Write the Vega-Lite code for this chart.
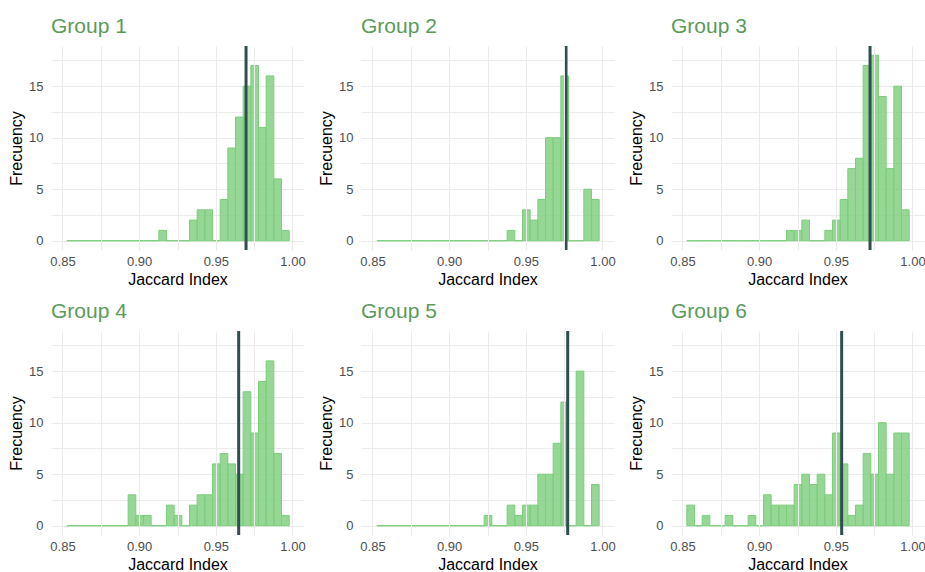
{
  "$schema": "https://vega.github.io/schema/vega-lite/v6.json",
  "background": "white",
  "padding": {"left": 8, "top": 15, "right": 0, "bottom": 0},
  "config": {
    "font": "Liberation Sans",
    "view": {"stroke": null},
    "axis": {
      "domain": false, "ticks": false, "grid": true, "gridColor": "#EBEBEB", "gridWidth": 1,
      "labelColor": "#4D4D4D", "labelFontSize": 13, "labelFont": "Liberation Sans",
      "titleColor": "#000000", "titleFontSize": 16, "titleFontWeight": "normal", "titleFont": "Liberation Sans"
    }
  },
  "data": {"values": [
    {"t":"bin","g":"Group 1","b0":0.8525,"b1":0.8575,"n":0},{"t":"bin","g":"Group 1","b0":0.8575,"b1":0.8625,"n":0},{"t":"bin","g":"Group 1","b0":0.8625,"b1":0.8675,"n":0},{"t":"bin","g":"Group 1","b0":0.8675,"b1":0.8725,"n":0},{"t":"bin","g":"Group 1","b0":0.8725,"b1":0.8775,"n":0},{"t":"bin","g":"Group 1","b0":0.8775,"b1":0.8825,"n":0},{"t":"bin","g":"Group 1","b0":0.8825,"b1":0.8875,"n":0},{"t":"bin","g":"Group 1","b0":0.8875,"b1":0.8925,"n":0},{"t":"bin","g":"Group 1","b0":0.8925,"b1":0.8975,"n":0},{"t":"bin","g":"Group 1","b0":0.8975,"b1":0.9025,"n":0},{"t":"bin","g":"Group 1","b0":0.9025,"b1":0.9075,"n":0},{"t":"bin","g":"Group 1","b0":0.9075,"b1":0.9125,"n":0},{"t":"bin","g":"Group 1","b0":0.9125,"b1":0.9175,"n":1},{"t":"bin","g":"Group 1","b0":0.9175,"b1":0.9225,"n":0},{"t":"bin","g":"Group 1","b0":0.9225,"b1":0.9275,"n":0},{"t":"bin","g":"Group 1","b0":0.9275,"b1":0.9325,"n":0},{"t":"bin","g":"Group 1","b0":0.9325,"b1":0.9375,"n":2},{"t":"bin","g":"Group 1","b0":0.9375,"b1":0.9425,"n":3},{"t":"bin","g":"Group 1","b0":0.9425,"b1":0.9475,"n":3},{"t":"bin","g":"Group 1","b0":0.9475,"b1":0.9525,"n":0},{"t":"bin","g":"Group 1","b0":0.9525,"b1":0.9575,"n":4},{"t":"bin","g":"Group 1","b0":0.9575,"b1":0.9625,"n":9},{"t":"bin","g":"Group 1","b0":0.9625,"b1":0.9675,"n":12},{"t":"bin","g":"Group 1","b0":0.9675,"b1":0.9725,"n":15},{"t":"bin","g":"Group 1","b0":0.9725,"b1":0.9775,"n":17},{"t":"bin","g":"Group 1","b0":0.9775,"b1":0.9825,"n":11},{"t":"bin","g":"Group 1","b0":0.9825,"b1":0.9875,"n":16},{"t":"bin","g":"Group 1","b0":0.9875,"b1":0.9925,"n":6},{"t":"bin","g":"Group 1","b0":0.9925,"b1":0.9975,"n":1},
    {"t":"bin","g":"Group 2","b0":0.8525,"b1":0.8575,"n":0},{"t":"bin","g":"Group 2","b0":0.8575,"b1":0.8625,"n":0},{"t":"bin","g":"Group 2","b0":0.8625,"b1":0.8675,"n":0},{"t":"bin","g":"Group 2","b0":0.8675,"b1":0.8725,"n":0},{"t":"bin","g":"Group 2","b0":0.8725,"b1":0.8775,"n":0},{"t":"bin","g":"Group 2","b0":0.8775,"b1":0.8825,"n":0},{"t":"bin","g":"Group 2","b0":0.8825,"b1":0.8875,"n":0},{"t":"bin","g":"Group 2","b0":0.8875,"b1":0.8925,"n":0},{"t":"bin","g":"Group 2","b0":0.8925,"b1":0.8975,"n":0},{"t":"bin","g":"Group 2","b0":0.8975,"b1":0.9025,"n":0},{"t":"bin","g":"Group 2","b0":0.9025,"b1":0.9075,"n":0},{"t":"bin","g":"Group 2","b0":0.9075,"b1":0.9125,"n":0},{"t":"bin","g":"Group 2","b0":0.9125,"b1":0.9175,"n":0},{"t":"bin","g":"Group 2","b0":0.9175,"b1":0.9225,"n":0},{"t":"bin","g":"Group 2","b0":0.9225,"b1":0.9275,"n":0},{"t":"bin","g":"Group 2","b0":0.9275,"b1":0.9325,"n":0},{"t":"bin","g":"Group 2","b0":0.9325,"b1":0.9375,"n":0},{"t":"bin","g":"Group 2","b0":0.9375,"b1":0.9425,"n":1},{"t":"bin","g":"Group 2","b0":0.9425,"b1":0.9475,"n":0},{"t":"bin","g":"Group 2","b0":0.9475,"b1":0.9525,"n":3},{"t":"bin","g":"Group 2","b0":0.9525,"b1":0.9575,"n":2},{"t":"bin","g":"Group 2","b0":0.9575,"b1":0.9625,"n":4},{"t":"bin","g":"Group 2","b0":0.9625,"b1":0.9675,"n":10},{"t":"bin","g":"Group 2","b0":0.9675,"b1":0.9725,"n":10},{"t":"bin","g":"Group 2","b0":0.9725,"b1":0.9775,"n":16},{"t":"bin","g":"Group 2","b0":0.9775,"b1":0.9825,"n":0},{"t":"bin","g":"Group 2","b0":0.9825,"b1":0.9875,"n":0},{"t":"bin","g":"Group 2","b0":0.9875,"b1":0.9925,"n":5},{"t":"bin","g":"Group 2","b0":0.9925,"b1":0.9975,"n":4},
    {"t":"bin","g":"Group 3","b0":0.8525,"b1":0.8575,"n":0},{"t":"bin","g":"Group 3","b0":0.8575,"b1":0.8625,"n":0},{"t":"bin","g":"Group 3","b0":0.8625,"b1":0.8675,"n":0},{"t":"bin","g":"Group 3","b0":0.8675,"b1":0.8725,"n":0},{"t":"bin","g":"Group 3","b0":0.8725,"b1":0.8775,"n":0},{"t":"bin","g":"Group 3","b0":0.8775,"b1":0.8825,"n":0},{"t":"bin","g":"Group 3","b0":0.8825,"b1":0.8875,"n":0},{"t":"bin","g":"Group 3","b0":0.8875,"b1":0.8925,"n":0},{"t":"bin","g":"Group 3","b0":0.8925,"b1":0.8975,"n":0},{"t":"bin","g":"Group 3","b0":0.8975,"b1":0.9025,"n":0},{"t":"bin","g":"Group 3","b0":0.9025,"b1":0.9075,"n":0},{"t":"bin","g":"Group 3","b0":0.9075,"b1":0.9125,"n":0},{"t":"bin","g":"Group 3","b0":0.9125,"b1":0.9175,"n":0},{"t":"bin","g":"Group 3","b0":0.9175,"b1":0.9225,"n":1},{"t":"bin","g":"Group 3","b0":0.9225,"b1":0.9275,"n":1},{"t":"bin","g":"Group 3","b0":0.9275,"b1":0.9325,"n":2},{"t":"bin","g":"Group 3","b0":0.9325,"b1":0.9375,"n":0},{"t":"bin","g":"Group 3","b0":0.9375,"b1":0.9425,"n":0},{"t":"bin","g":"Group 3","b0":0.9425,"b1":0.9475,"n":1},{"t":"bin","g":"Group 3","b0":0.9475,"b1":0.9525,"n":2},{"t":"bin","g":"Group 3","b0":0.9525,"b1":0.9575,"n":4},{"t":"bin","g":"Group 3","b0":0.9575,"b1":0.9625,"n":7},{"t":"bin","g":"Group 3","b0":0.9625,"b1":0.9675,"n":8},{"t":"bin","g":"Group 3","b0":0.9675,"b1":0.9725,"n":17},{"t":"bin","g":"Group 3","b0":0.9725,"b1":0.9775,"n":18},{"t":"bin","g":"Group 3","b0":0.9775,"b1":0.9825,"n":14},{"t":"bin","g":"Group 3","b0":0.9825,"b1":0.9875,"n":7},{"t":"bin","g":"Group 3","b0":0.9875,"b1":0.9925,"n":15},{"t":"bin","g":"Group 3","b0":0.9925,"b1":0.9975,"n":3},
    {"t":"bin","g":"Group 4","b0":0.8525,"b1":0.8575,"n":0},{"t":"bin","g":"Group 4","b0":0.8575,"b1":0.8625,"n":0},{"t":"bin","g":"Group 4","b0":0.8625,"b1":0.8675,"n":0},{"t":"bin","g":"Group 4","b0":0.8675,"b1":0.8725,"n":0},{"t":"bin","g":"Group 4","b0":0.8725,"b1":0.8775,"n":0},{"t":"bin","g":"Group 4","b0":0.8775,"b1":0.8825,"n":0},{"t":"bin","g":"Group 4","b0":0.8825,"b1":0.8875,"n":0},{"t":"bin","g":"Group 4","b0":0.8875,"b1":0.8925,"n":0},{"t":"bin","g":"Group 4","b0":0.8925,"b1":0.8975,"n":3},{"t":"bin","g":"Group 4","b0":0.8975,"b1":0.9025,"n":1},{"t":"bin","g":"Group 4","b0":0.9025,"b1":0.9075,"n":1},{"t":"bin","g":"Group 4","b0":0.9075,"b1":0.9125,"n":0},{"t":"bin","g":"Group 4","b0":0.9125,"b1":0.9175,"n":0},{"t":"bin","g":"Group 4","b0":0.9175,"b1":0.9225,"n":2},{"t":"bin","g":"Group 4","b0":0.9225,"b1":0.9275,"n":1},{"t":"bin","g":"Group 4","b0":0.9275,"b1":0.9325,"n":0},{"t":"bin","g":"Group 4","b0":0.9325,"b1":0.9375,"n":2},{"t":"bin","g":"Group 4","b0":0.9375,"b1":0.9425,"n":3},{"t":"bin","g":"Group 4","b0":0.9425,"b1":0.9475,"n":3},{"t":"bin","g":"Group 4","b0":0.9475,"b1":0.9525,"n":6},{"t":"bin","g":"Group 4","b0":0.9525,"b1":0.9575,"n":7},{"t":"bin","g":"Group 4","b0":0.9575,"b1":0.9625,"n":6},{"t":"bin","g":"Group 4","b0":0.9625,"b1":0.9675,"n":5},{"t":"bin","g":"Group 4","b0":0.9675,"b1":0.9725,"n":13},{"t":"bin","g":"Group 4","b0":0.9725,"b1":0.9775,"n":9},{"t":"bin","g":"Group 4","b0":0.9775,"b1":0.9825,"n":14},{"t":"bin","g":"Group 4","b0":0.9825,"b1":0.9875,"n":16},{"t":"bin","g":"Group 4","b0":0.9875,"b1":0.9925,"n":7},{"t":"bin","g":"Group 4","b0":0.9925,"b1":0.9975,"n":1},
    {"t":"bin","g":"Group 5","b0":0.8525,"b1":0.8575,"n":0},{"t":"bin","g":"Group 5","b0":0.8575,"b1":0.8625,"n":0},{"t":"bin","g":"Group 5","b0":0.8625,"b1":0.8675,"n":0},{"t":"bin","g":"Group 5","b0":0.8675,"b1":0.8725,"n":0},{"t":"bin","g":"Group 5","b0":0.8725,"b1":0.8775,"n":0},{"t":"bin","g":"Group 5","b0":0.8775,"b1":0.8825,"n":0},{"t":"bin","g":"Group 5","b0":0.8825,"b1":0.8875,"n":0},{"t":"bin","g":"Group 5","b0":0.8875,"b1":0.8925,"n":0},{"t":"bin","g":"Group 5","b0":0.8925,"b1":0.8975,"n":0},{"t":"bin","g":"Group 5","b0":0.8975,"b1":0.9025,"n":0},{"t":"bin","g":"Group 5","b0":0.9025,"b1":0.9075,"n":0},{"t":"bin","g":"Group 5","b0":0.9075,"b1":0.9125,"n":0},{"t":"bin","g":"Group 5","b0":0.9125,"b1":0.9175,"n":0},{"t":"bin","g":"Group 5","b0":0.9175,"b1":0.9225,"n":0},{"t":"bin","g":"Group 5","b0":0.9225,"b1":0.9275,"n":1},{"t":"bin","g":"Group 5","b0":0.9275,"b1":0.9325,"n":0},{"t":"bin","g":"Group 5","b0":0.9325,"b1":0.9375,"n":0},{"t":"bin","g":"Group 5","b0":0.9375,"b1":0.9425,"n":2},{"t":"bin","g":"Group 5","b0":0.9425,"b1":0.9475,"n":1},{"t":"bin","g":"Group 5","b0":0.9475,"b1":0.9525,"n":2},{"t":"bin","g":"Group 5","b0":0.9525,"b1":0.9575,"n":2},{"t":"bin","g":"Group 5","b0":0.9575,"b1":0.9625,"n":5},{"t":"bin","g":"Group 5","b0":0.9625,"b1":0.9675,"n":5},{"t":"bin","g":"Group 5","b0":0.9675,"b1":0.9725,"n":8},{"t":"bin","g":"Group 5","b0":0.9725,"b1":0.9775,"n":12},{"t":"bin","g":"Group 5","b0":0.9775,"b1":0.9825,"n":0},{"t":"bin","g":"Group 5","b0":0.9825,"b1":0.9875,"n":15},{"t":"bin","g":"Group 5","b0":0.9875,"b1":0.9925,"n":0},{"t":"bin","g":"Group 5","b0":0.9925,"b1":0.9975,"n":4},
    {"t":"bin","g":"Group 6","b0":0.8525,"b1":0.8575,"n":2},{"t":"bin","g":"Group 6","b0":0.8575,"b1":0.8625,"n":0},{"t":"bin","g":"Group 6","b0":0.8625,"b1":0.8675,"n":1},{"t":"bin","g":"Group 6","b0":0.8675,"b1":0.8725,"n":0},{"t":"bin","g":"Group 6","b0":0.8725,"b1":0.8775,"n":0},{"t":"bin","g":"Group 6","b0":0.8775,"b1":0.8825,"n":1},{"t":"bin","g":"Group 6","b0":0.8825,"b1":0.8875,"n":0},{"t":"bin","g":"Group 6","b0":0.8875,"b1":0.8925,"n":0},{"t":"bin","g":"Group 6","b0":0.8925,"b1":0.8975,"n":1},{"t":"bin","g":"Group 6","b0":0.8975,"b1":0.9025,"n":0},{"t":"bin","g":"Group 6","b0":0.9025,"b1":0.9075,"n":3},{"t":"bin","g":"Group 6","b0":0.9075,"b1":0.9125,"n":2},{"t":"bin","g":"Group 6","b0":0.9125,"b1":0.9175,"n":2},{"t":"bin","g":"Group 6","b0":0.9175,"b1":0.9225,"n":2},{"t":"bin","g":"Group 6","b0":0.9225,"b1":0.9275,"n":4},{"t":"bin","g":"Group 6","b0":0.9275,"b1":0.9325,"n":5},{"t":"bin","g":"Group 6","b0":0.9325,"b1":0.9375,"n":4},{"t":"bin","g":"Group 6","b0":0.9375,"b1":0.9425,"n":5},{"t":"bin","g":"Group 6","b0":0.9425,"b1":0.9475,"n":3},{"t":"bin","g":"Group 6","b0":0.9475,"b1":0.9525,"n":9},{"t":"bin","g":"Group 6","b0":0.9525,"b1":0.9575,"n":6},{"t":"bin","g":"Group 6","b0":0.9575,"b1":0.9625,"n":1},{"t":"bin","g":"Group 6","b0":0.9625,"b1":0.9675,"n":2},{"t":"bin","g":"Group 6","b0":0.9675,"b1":0.9725,"n":7},{"t":"bin","g":"Group 6","b0":0.9725,"b1":0.9775,"n":5},{"t":"bin","g":"Group 6","b0":0.9775,"b1":0.9825,"n":10},{"t":"bin","g":"Group 6","b0":0.9825,"b1":0.9875,"n":5},{"t":"bin","g":"Group 6","b0":0.9875,"b1":0.9925,"n":9},{"t":"bin","g":"Group 6","b0":0.9925,"b1":0.9975,"n":9},
    {"t":"line","g":"Group 1","m":0.9697},
    {"t":"line","g":"Group 2","m":0.9762},
    {"t":"line","g":"Group 3","m":0.9723},
    {"t":"line","g":"Group 4","m":0.9649},
    {"t":"line","g":"Group 5","m":0.9773},
    {"t":"line","g":"Group 6","m":0.9538}
  ]},
  "facet": {
    "field": "g", "type": "nominal", "title": null,
    "header": {
      "labelAnchor": "start", "labelAlign": "left", "labelOrient": "top",
      "labelFontSize": 21, "labelColor": "#5A9A5A", "labelFont": "Liberation Sans",
      "labelBaseline": "bottom", "labelPadding": -13
    }
  },
  "columns": 3,
  "spacing": {"column": 12, "row": 13},
  "resolve": {"axis": {"x": "independent", "y": "independent"}},
  "spec": {
    "width": 253,
    "height": 204,
    "layer": [
      {
        "transform": [{"filter": "datum.t === 'bin'"}],
        "mark": {"type": "rect", "fill": "#7CCD7C", "fillOpacity": 0.8, "stroke": "#7CCD7C", "strokeWidth": 1},
        "encoding": {
          "x": {"field": "b0", "type": "quantitative", "bin": "binned",
                "scale": {"domain": [0.8425, 1.0075], "nice": false, "zero": false},
                "axis": {"title": "Jaccard Index", "values": [0.85, 0.875, 0.9, 0.925, 0.95, 0.975, 1.0],
                         "labelExpr": "indexof(['0.85','0.90','0.95','1.00'], format(datum.value, '.2f')) >= 0 ? format(datum.value, '.2f') : ''",
                         "labelPadding": 5, "titlePadding": 3}},
          "x2": {"field": "b1"},
          "y": {"field": "n", "type": "quantitative",
                "scale": {"domain": [-0.9, 18.9], "nice": false, "zero": false},
                "axis": {"title": "Frecuency", "values": [0, 2.5, 5, 7.5, 10, 12.5, 15, 17.5],
                         "labelExpr": "datum.value % 5 === 0 ? datum.label : ''",
                         "labelPadding": 8, "titlePadding": 4}},
          "y2": {"datum": 0}
        }
      },
      {
        "transform": [{"filter": "datum.t === 'line'"}],
        "mark": {"type": "rule", "color": "#2F4F4F", "strokeWidth": 3},
        "encoding": {"x": {"field": "m", "type": "quantitative"}}
      }
    ]
  }
}
